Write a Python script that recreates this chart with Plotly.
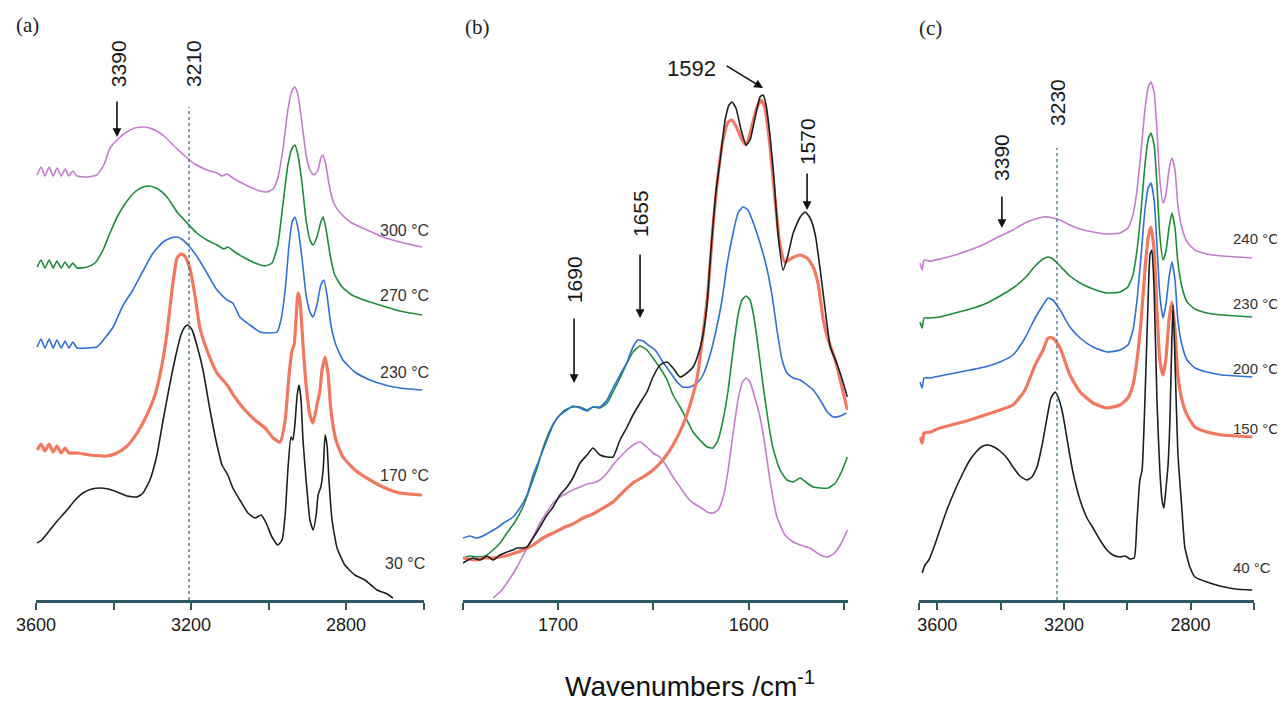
import plotly.graph_objects as go

# ---------------- Panel (a): 30-300 C, 3600-2600 cm-1 ----------------
A_WN_300 = [3597,3587,3577,3566,3556,3546,3535,3525,3515,3505,3494,3468,3443,3425,3409,3391,3370,3345,3319,3293,3267,3241,3216,3190,3159,3133,3120,3107,3092,3074,3048,3022,3004,2988,2976,2963,2950,2939,2932,2924,2913,2903,2893,2883,2872,2865,2859,2852,2841,2829,2810,2785,2746,2705,2661,2604]
A_300 = [4.25,4.33,4.24,4.33,4.24,4.32,4.24,4.31,4.24,4.29,4.24,4.23,4.25,4.35,4.52,4.60,4.67,4.72,4.73,4.70,4.63,4.53,4.44,4.36,4.30,4.27,4.24,4.26,4.22,4.18,4.13,4.09,4.08,4.11,4.22,4.50,4.90,5.10,5.13,5.05,4.75,4.45,4.30,4.25,4.30,4.42,4.45,4.35,4.10,3.95,3.85,3.77,3.70,3.63,3.58,3.53]

A_WN_270 = [3597,3587,3577,3566,3556,3546,3535,3525,3515,3505,3494,3468,3448,3427,3409,3388,3365,3345,3324,3306,3285,3262,3236,3210,3185,3159,3133,3115,3105,3087,3061,3035,3009,2991,2976,2963,2950,2939,2932,2924,2913,2903,2893,2885,2875,2865,2859,2852,2841,2829,2810,2785,2746,2705,2661,2604]
A_270 = [3.33,3.40,3.32,3.40,3.32,3.39,3.32,3.38,3.32,3.37,3.32,3.33,3.37,3.50,3.67,3.85,3.99,4.08,4.13,4.14,4.11,4.03,3.88,3.77,3.67,3.60,3.55,3.51,3.53,3.48,3.42,3.37,3.34,3.37,3.55,3.95,4.35,4.52,4.55,4.45,4.15,3.80,3.60,3.55,3.63,3.78,3.83,3.72,3.45,3.25,3.13,3.05,2.99,2.94,2.89,2.85]

A_WN_230 = [3597,3587,3577,3566,3556,3546,3535,3525,3515,3505,3494,3468,3443,3422,3401,3375,3350,3324,3298,3272,3252,3236,3221,3203,3182,3159,3133,3107,3092,3074,3048,3022,2996,2978,2968,2957,2947,2939,2932,2924,2913,2903,2893,2885,2875,2865,2857,2849,2839,2826,2808,2777,2738,2699,2661,2604]
A_230 = [2.53,2.61,2.52,2.61,2.52,2.60,2.52,2.59,2.52,2.58,2.52,2.52,2.53,2.62,2.73,2.95,3.10,3.29,3.47,3.58,3.62,3.63,3.60,3.53,3.42,3.27,3.10,3.00,2.97,2.83,2.75,2.68,2.67,2.68,2.80,3.10,3.55,3.78,3.83,3.72,3.40,3.05,2.88,2.83,2.95,3.15,3.20,3.05,2.75,2.55,2.40,2.28,2.20,2.15,2.12,2.10]

A_WN_170 = [3597,3587,3577,3566,3556,3546,3535,3525,3515,3494,3461,3417,3391,3365,3339,3314,3293,3275,3262,3249,3236,3226,3216,3203,3190,3177,3159,3133,3107,3087,3061,3035,3009,2988,2970,2957,2947,2939,2934,2929,2924,2919,2911,2903,2893,2885,2875,2867,2862,2854,2846,2839,2826,2808,2777,2738,2699,2661,2604]
A_170 = [1.50,1.56,1.49,1.56,1.48,1.54,1.47,1.52,1.47,1.47,1.45,1.44,1.47,1.54,1.67,1.85,2.05,2.35,2.67,3.10,3.42,3.46,3.44,3.32,3.05,2.72,2.50,2.27,2.15,2.03,1.90,1.80,1.72,1.62,1.58,1.80,2.25,2.50,2.55,2.80,3.07,3.00,2.55,2.15,1.85,1.77,1.95,2.10,2.30,2.43,2.25,1.90,1.60,1.43,1.30,1.20,1.12,1.07,1.05]

A_WN_30 = [3597,3585,3564,3543,3520,3499,3479,3456,3435,3414,3391,3365,3339,3324,3306,3288,3272,3254,3239,3226,3216,3208,3197,3185,3169,3151,3133,3120,3105,3092,3074,3053,3035,3019,3006,2991,2976,2965,2957,2950,2942,2937,2932,2926,2921,2916,2911,2903,2893,2885,2877,2872,2865,2859,2854,2849,2844,2836,2823,2803,2777,2751,2720,2694,2679]
A_30 = [0.57,0.60,0.70,0.80,0.90,1.00,1.07,1.11,1.12,1.11,1.08,1.04,1.03,1.07,1.20,1.45,1.80,2.17,2.45,2.65,2.73,2.75,2.70,2.55,2.30,1.90,1.55,1.35,1.25,1.12,1.00,0.87,0.82,0.85,0.77,0.63,0.55,0.60,0.85,1.30,1.63,1.60,1.75,2.05,2.15,2.00,1.60,1.20,0.80,0.70,0.85,1.05,1.13,1.30,1.65,1.55,1.20,0.80,0.52,0.35,0.25,0.20,0.10,0.06,0.02]

# ---------------- Panel (b): 1750-1550 cm-1 ----------------
B_WN_30 = [1749.8,1747.2,1744.6,1740.9,1737.3,1734.1,1730.4,1726.8,1723.6,1721.5,1718.4,1716.3,1713.1,1709.5,1705.8,1702.6,1699.0,1695.3,1692.2,1688.5,1684.8,1681.7,1678.0,1674.3,1671.2,1667.5,1663.8,1660.7,1657.0,1653.4,1650.2,1646.5,1642.8,1639.7,1636.0,1632.4,1629.2,1626.6,1624.0,1621.9,1619.8,1617.1,1615.0,1612.4,1610.3,1608.8,1606.7,1604.0,1601.4,1599.3,1596.7,1594.1,1592.5,1590.9,1588.9,1586.7,1584.6,1582.0,1579.4,1576.7,1573.0,1570.4,1567.8,1565.1,1562.5,1559.9,1557.2,1553.5,1550.9,1548.3]
B_30 = [0.37,0.40,0.42,0.40,0.44,0.40,0.45,0.48,0.50,0.52,0.52,0.53,0.62,0.73,0.85,0.93,1.05,1.13,1.22,1.37,1.45,1.52,1.45,1.43,1.43,1.60,1.73,1.85,1.97,2.08,2.23,2.35,2.38,2.32,2.23,2.27,2.33,2.45,2.65,2.95,3.50,4.10,4.40,4.80,4.95,4.98,4.92,4.70,4.55,4.60,4.82,5.03,5.05,4.95,4.65,4.20,3.65,3.30,3.45,3.67,3.83,3.88,3.82,3.65,3.30,2.90,2.53,2.35,2.20,2.03]

B_WN_170 = [1749.8,1743.6,1738.3,1734.1,1727.8,1722.6,1718.4,1713.1,1707.9,1702.6,1697.4,1692.2,1686.9,1681.7,1676.4,1671.2,1665.9,1660.7,1655.4,1650.2,1645.0,1639.7,1634.5,1630.8,1627.1,1624.0,1621.3,1618.7,1616.1,1613.5,1610.8,1608.8,1606.2,1603.5,1601.4,1598.8,1596.2,1593.5,1591.5,1588.9,1586.2,1583.6,1581.0,1577.3,1573.0,1569.4,1566.2,1563.5,1560.9,1558.3,1554.6,1551.4,1548.3]
B_170 = [0.42,0.40,0.42,0.42,0.44,0.47,0.50,0.55,0.62,0.67,0.72,0.76,0.82,0.86,0.92,0.98,1.08,1.17,1.23,1.30,1.40,1.55,1.75,1.95,2.22,2.65,3.10,3.75,4.25,4.60,4.78,4.80,4.72,4.60,4.55,4.70,4.90,5.00,4.92,4.55,4.00,3.55,3.38,3.42,3.45,3.42,3.33,3.15,2.80,2.60,2.40,2.15,1.90]

B_WN_230 = [1749.8,1746.2,1743.0,1739.4,1735.7,1732.1,1727.8,1724.2,1720.0,1716.3,1713.1,1709.5,1705.8,1702.6,1699.0,1695.3,1692.2,1688.5,1684.8,1681.7,1678.0,1674.3,1671.2,1667.5,1663.8,1660.7,1658.1,1655.4,1652.8,1649.1,1645.0,1641.3,1637.6,1634.5,1630.8,1627.1,1624.0,1620.3,1617.1,1614.0,1611.4,1608.2,1605.6,1603.0,1600.4,1597.2,1594.1,1590.9,1587.8,1585.2,1582.5,1579.9,1576.7,1573.0,1569.4,1566.2,1562.5,1558.8,1555.6,1552.0,1548.8]
B_230 = [0.62,0.64,0.62,0.64,0.68,0.72,0.78,0.82,0.92,1.05,1.25,1.42,1.60,1.75,1.85,1.90,1.94,1.92,1.89,1.93,1.93,2.00,2.12,2.25,2.38,2.53,2.60,2.59,2.55,2.50,2.38,2.28,2.18,2.13,2.13,2.17,2.25,2.45,2.70,3.00,3.35,3.67,3.87,3.93,3.90,3.75,3.57,3.35,3.05,2.70,2.40,2.27,2.22,2.20,2.15,2.10,2.00,1.88,1.83,1.84,1.87]

B_WN_270 = [1749.8,1746.2,1742.0,1738.3,1734.1,1730.4,1726.8,1722.6,1718.4,1714.7,1711.0,1707.9,1704.2,1700.5,1696.3,1692.2,1688.5,1684.8,1681.7,1678.0,1674.3,1671.2,1667.5,1663.8,1660.7,1657.0,1653.4,1650.2,1646.5,1642.8,1639.7,1636.0,1632.4,1629.2,1625.6,1621.9,1618.7,1616.1,1613.5,1610.8,1608.2,1605.6,1603.5,1601.4,1599.3,1597.2,1595.2,1592.5,1589.9,1587.3,1583.6,1579.9,1576.7,1573.0,1569.4,1566.2,1562.5,1558.3,1554.6,1551.4,1548.3]
B_270 = [0.42,0.44,0.43,0.44,0.50,0.57,0.67,0.78,0.93,1.12,1.32,1.52,1.70,1.82,1.90,1.93,1.93,1.90,1.93,1.92,1.97,2.08,2.22,2.37,2.48,2.54,2.50,2.42,2.32,2.20,2.05,1.93,1.80,1.68,1.60,1.53,1.52,1.60,1.80,2.10,2.50,2.85,3.00,3.04,3.00,2.82,2.55,2.15,1.80,1.52,1.30,1.20,1.18,1.22,1.17,1.13,1.12,1.12,1.17,1.28,1.43]

B_WN_300 = [1734.1,1730.4,1726.8,1721.5,1716.3,1713.1,1709.5,1705.8,1702.6,1699.0,1695.3,1692.2,1688.5,1684.8,1681.7,1678.0,1674.3,1671.2,1667.5,1663.8,1660.7,1657.0,1653.4,1650.2,1646.5,1642.8,1639.7,1636.0,1632.4,1629.2,1625.6,1621.9,1618.7,1616.1,1613.5,1610.8,1608.2,1605.6,1603.5,1601.4,1599.3,1597.2,1594.1,1591.5,1588.9,1585.2,1581.0,1576.7,1573.0,1569.4,1566.2,1562.5,1558.8,1555.6,1552.0,1548.3]
B_300 = [0.02,0.08,0.17,0.33,0.52,0.63,0.77,0.88,0.97,1.03,1.07,1.10,1.13,1.16,1.17,1.20,1.27,1.35,1.43,1.50,1.55,1.58,1.53,1.47,1.43,1.33,1.23,1.13,1.03,0.97,0.93,0.88,0.87,0.90,1.02,1.30,1.67,2.00,2.17,2.22,2.18,2.05,1.83,1.55,1.20,0.83,0.65,0.58,0.55,0.53,0.50,0.45,0.43,0.46,0.55,0.70]

# ---------------- Panel (c): 40-240 C, 3657-2600 cm-1 ----------------
C_WN = [3655,3648,3642,3623,3592,3544,3497,3450,3402,3361,3323,3291,3266,3250,3235,3212,3181,3149,3108,3064,3023,2998,2982,2969,2956,2944,2934,2925,2915,2906,2897,2887,2878,2868,2859,2849,2840,2827,2811,2786,2748,2700,2653,2605]
C_240 = [3.37,3.30,3.40,3.39,3.41,3.45,3.50,3.56,3.64,3.70,3.77,3.81,3.83,3.83,3.82,3.80,3.75,3.71,3.68,3.66,3.67,3.72,3.85,4.10,4.50,4.90,5.12,5.18,5.08,4.70,4.20,3.97,4.05,4.30,4.42,4.30,3.95,3.72,3.58,3.50,3.46,3.44,3.43,3.42]
C_230 = [2.78,2.72,2.82,2.82,2.83,2.87,2.91,2.96,3.04,3.12,3.22,3.34,3.41,3.43,3.41,3.34,3.24,3.17,3.11,3.07,3.08,3.13,3.25,3.50,3.90,4.35,4.60,4.67,4.55,4.15,3.65,3.40,3.48,3.72,3.87,3.72,3.38,3.13,2.98,2.91,2.87,2.85,2.84,2.83]
C_200 = [2.18,2.12,2.22,2.22,2.24,2.27,2.30,2.33,2.38,2.45,2.62,2.82,2.95,3.02,3.00,2.90,2.73,2.62,2.53,2.48,2.50,2.55,2.70,3.00,3.45,3.90,4.12,4.17,4.00,3.55,3.05,2.82,2.95,3.22,3.38,3.20,2.80,2.55,2.40,2.32,2.28,2.25,2.24,2.23]
C_150 = [1.63,1.57,1.67,1.68,1.72,1.76,1.80,1.85,1.90,1.95,2.10,2.35,2.50,2.62,2.62,2.52,2.25,2.08,1.97,1.92,1.95,2.02,2.15,2.40,2.80,3.30,3.62,3.73,3.50,2.90,2.40,2.25,2.40,2.80,2.98,2.70,2.25,2.00,1.85,1.73,1.68,1.65,1.64,1.63]

C_WN_40 = [3648,3639,3627,3614,3592,3570,3544,3519,3497,3475,3456,3440,3421,3402,3380,3361,3339,3317,3301,3285,3269,3253,3241,3228,3215,3203,3187,3171,3149,3127,3108,3086,3064,3045,3023,3007,2991,2978,2969,2960,2953,2944,2934,2928,2922,2915,2906,2897,2890,2884,2878,2871,2865,2859,2855,2849,2840,2827,2818,2802,2786,2748,2707,2659,2605]
C_40 = [0.27,0.35,0.40,0.50,0.70,0.90,1.10,1.27,1.40,1.49,1.54,1.55,1.53,1.49,1.42,1.33,1.24,1.20,1.23,1.33,1.55,1.83,2.02,2.08,2.00,1.85,1.55,1.27,1.00,0.82,0.72,0.60,0.50,0.45,0.43,0.44,0.41,0.42,0.80,1.20,1.30,2.00,3.00,3.45,3.50,3.10,2.00,1.30,1.00,0.92,1.10,1.35,1.80,2.60,2.95,2.40,1.47,0.90,0.53,0.33,0.23,0.18,0.14,0.11,0.10]

PURPLE = "#c57ccf"
GREEN = "#1e8c3c"
BLUE = "#2f6fd8"
RED = "#f2785f"
BLACK = "#1b1f22"
AXIS = "#2f5864"

fig = go.Figure()

def add(x, y, color, axis, width=1.6):
    fig.add_trace(go.Scatter(x=x, y=y, mode="lines", xaxis="x" + axis, yaxis="y" + axis,
                             line=dict(color=color, width=width, shape="spline", smoothing=0.5),
                             showlegend=False, hoverinfo="skip"))

add(A_WN_300, A_300, PURPLE, "")
add(A_WN_270, A_270, GREEN, "")
add(A_WN_230, A_230, BLUE, "")
add(A_WN_170, A_170, RED, "", 3.2)
add(A_WN_30, A_30, BLACK, "")

add(B_WN_300, B_300, PURPLE, "2")
add(B_WN_270, B_270, GREEN, "2")
add(B_WN_230, B_230, BLUE, "2")
add(B_WN_170, B_170, RED, "2", 3.2)
add(B_WN_30, B_30, BLACK, "2")

add(C_WN, C_240, PURPLE, "3")
add(C_WN, C_230, GREEN, "3")
add(C_WN, C_200, BLUE, "3")
add(C_WN, C_150, RED, "3", 3.2)
add(C_WN_40, C_40, BLACK, "3")

# the page body adds an 8 px offset; layout below is shifted to compensate
W, H = 1285, 703
OFF = 8
axis_common = dict(showline=True, linecolor=AXIS, linewidth=2.5, ticks="outside", ticklen=7,
                   tickwidth=2, tickcolor=AXIS, showgrid=False, zeroline=False, automargin=False,
                   tickfont=dict(family="Arial", size=18, color="#1a1a1a"))
y_common = dict(range=[0, 5.8], visible=False, domain=[0, 1], automargin=False)
minor_common = dict(ticks="outside", ticklen=7, tickwidth=2, tickcolor=AXIS, showgrid=False)

fig.update_layout(
    width=W, height=H, autosize=False,
    margin=dict(l=0, r=0, t=20 - OFF, b=103 + OFF, pad=0),
    paper_bgcolor="white", plot_bgcolor="rgba(0,0,0,0)",
    xaxis=dict(domain=[(36 - OFF) / W, (423.5 - OFF) / W], range=[3600, 2600], anchor="y",
               tickvals=[3600, 3200, 2800], minor=dict(tickvals=[3400, 3000, 2600], **minor_common),
               **axis_common),
    yaxis=dict(anchor="x", **y_common),
    xaxis2=dict(domain=[(462.7 - OFF) / W, (847.9 - OFF) / W], range=[1750, 1548], anchor="y2",
                tickvals=[1700, 1600], minor=dict(tickvals=[1750, 1650, 1550], **minor_common),
                **axis_common),
    yaxis2=dict(anchor="x2", **y_common),
    xaxis3=dict(domain=[(919.3 - OFF) / W, (1253.8 - OFF) / W], range=[3657, 2600], anchor="y3",
                tickvals=[3600, 3200, 2800], minor=dict(tickvals=[3657, 3400, 3000, 2600], **minor_common),
                **axis_common),
    yaxis3=dict(anchor="x3", **y_common),
)

ann = []
lab_font = dict(family="Arial", size=16, color="#333333")
lab_font_c = dict(family="Arial", size=15, color="#333333")
A_LABELS = [("300 °C", 3.70), ("270 °C", 3.05), ("230 °C", 2.28), ("170 °C", 1.25), ("30 °C", 0.37)]
B_LABELS = [("30 °C", 2.16), ("170 °C", 1.93), ("230 °C", 1.77), ("270 °C", 1.22), ("300 °C", 0.32)]
C_LABELS = [("240 °C", 3.62), ("230 °C", 2.97), ("200 °C", 2.32), ("150 °C", 1.72), ("40 °C", 0.33)]
for t, yv in A_LABELS:
    ann.append(dict(x=2648, y=yv, xref="x", yref="y", text=t, showarrow=False, font=lab_font,
                    xanchor="center", yanchor="middle"))
for t, yv in B_LABELS:
    ann.append(dict(x=1547, y=yv, xref="x2", yref="y2", text=t, showarrow=False, font=lab_font,
                    xanchor="left", yanchor="middle"))
for t, yv in C_LABELS:
    ann.append(dict(x=2672, y=yv, xref="x3", yref="y3", text=t, showarrow=False, font=lab_font_c,
                    xanchor="left", yanchor="middle"))

big = dict(family="Arial", size=21, color="#1a1a1a")
# rotated peak labels: (text, x, y, axis)
PEAK_TEXT = [("3390", 3388, 5.36, ""), ("3210", 3195, 5.37, ""),
             ("1690", 1691.6, 3.20, "2"), ("1655", 1657.0, 3.86, "2"), ("1570", 1569.4, 4.58, "2"),
             ("3390", 3399, 4.43, "3"), ("3230", 3222, 4.98, "3")]
for t, xv, yv, a in PEAK_TEXT:
    ann.append(dict(x=xv, y=yv, xref="x" + a, yref="y" + a, text=t, textangle=-90,
                    showarrow=False, font=big, xanchor="center", yanchor="middle"))
ann.append(dict(x=1629.8, y=5.32, xref="x2", yref="y2", text="1592", showarrow=False,
                font=dict(family="Arial", size=22, color="#1a1a1a"), xanchor="center", yanchor="middle"))

# arrows: (tip x, tip y, tail x, tail y, axis)
ARROWS = [(3391, 4.63, 3391, 5.00, ""),
          (1691.6, 2.17, 1691.6, 2.83, "2"), (1657.0, 2.82, 1657.0, 3.47, "2"),
          (1592.5, 5.12, 1612.4, 5.35, "2"), (1569.4, 3.90, 1569.4, 4.28, "2"),
          (3396, 3.72, 3396, 4.05, "3")]
for tx, ty, sx, sy, a in ARROWS:
    ann.append(dict(x=tx, y=ty, ax=sx, ay=sy, xref="x" + a, yref="y" + a,
                    axref="x" + a, ayref="y" + a, text="", showarrow=True,
                    arrowhead=2, arrowsize=1.1, arrowwidth=1.6, arrowcolor="#111111"))

# panel letters and common axis title (paper coordinates)
def px_to_paper(px_, py_):
    return (px_ - OFF) / W, (600 - py_) / 580

for t, px_, py_ in [("(a)", 27, 25), ("(b)", 477, 27), ("(c)", 930, 28)]:
    xp, yp = px_to_paper(px_, py_)
    ann.append(dict(x=xp, y=yp, xref="paper", yref="paper", text=t, xanchor="center", yanchor="middle",
                    showarrow=False, font=dict(family="Liberation Serif", size=21, color="#222")))
xp, yp = px_to_paper(690, 684)
ann.append(dict(x=xp, y=yp, xref="paper", yref="paper", xanchor="center", yanchor="middle",
                text="Wavenumbers /cm<sup>-1</sup>", showarrow=False,
                font=dict(family="Arial", size=28, color="#111")))
fig.update_layout(annotations=ann)

# dotted guide lines
for xv, y1, a in [(3205, 4.93, ""), (3222, 4.52, "3")]:
    fig.add_shape(type="line", x0=xv, x1=xv, y0=0, y1=y1, xref="x" + a, yref="y" + a,
                  line=dict(color="#3f6f80", width=1.3, dash="dot"))

fig.write_html("out.html")
